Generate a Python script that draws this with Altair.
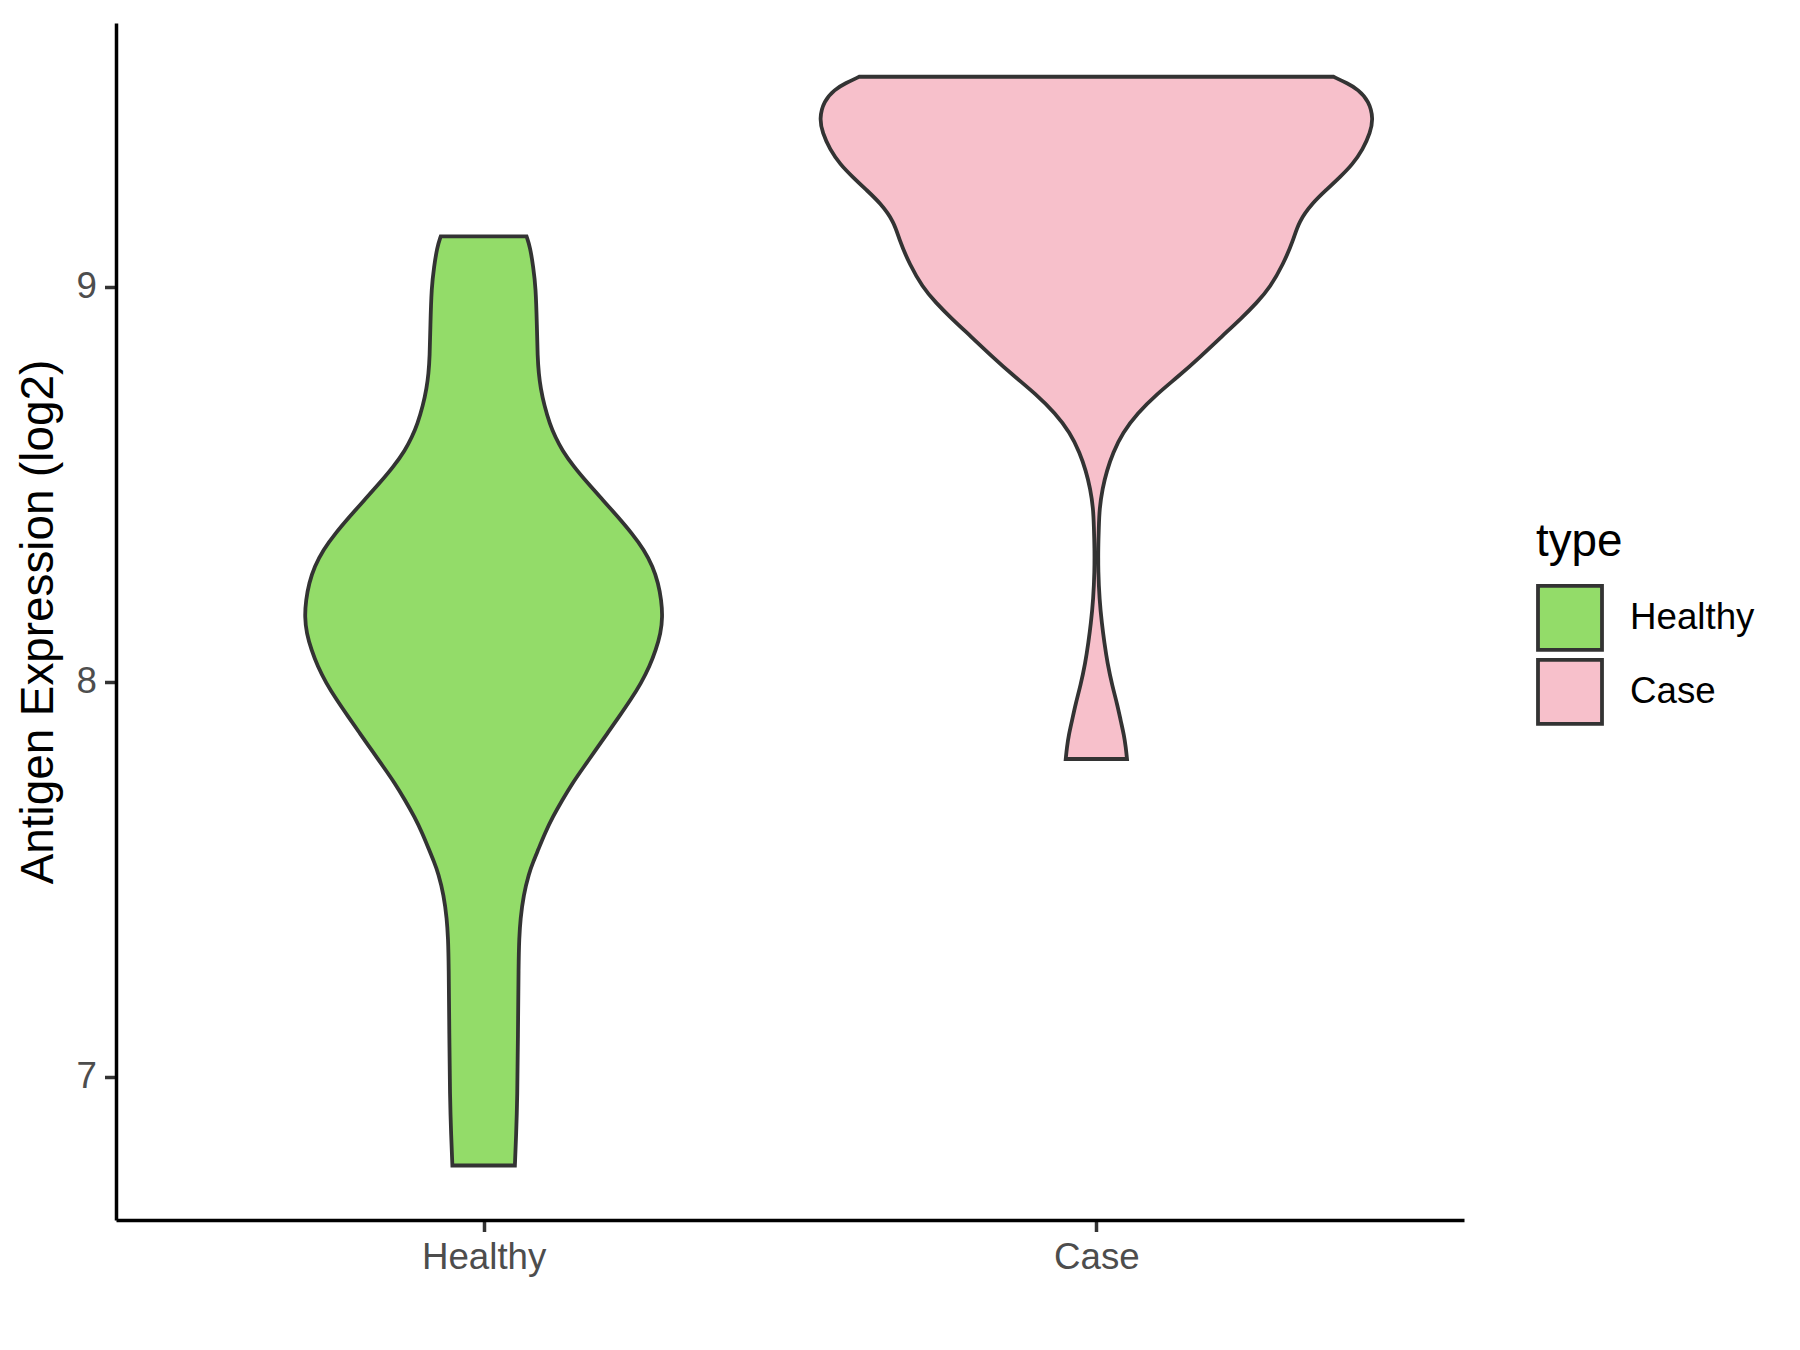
import altair as alt
import pandas as pd

categories = ["Healthy", "Case"]
category_pos = [1, 2]
fill_colors = ["#93DC69", "#F7C0CB"]

# Healthy violin outline: expression value (log2) and half-width (in category units)
healthy_value = [9.128, 9.10, 9.05, 9.0, 8.9, 8.823, 8.78, 8.744, 8.70, 8.653, 8.62, 8.587,
                 8.545, 8.503, 8.46, 8.418, 8.376, 8.334, 8.292, 8.250, 8.207, 8.165,
                 8.123, 8.081, 8.04, 7.997, 7.955, 7.912, 7.87, 7.828, 7.786, 7.744,
                 7.70, 7.659, 7.617, 7.575, 7.545, 7.516, 7.46, 7.40, 7.35, 7.29, 7.1, 6.95, 6.85, 6.776]
healthy_half = [0.070, 0.076, 0.081, 0.085, 0.087, 0.088, 0.090, 0.093, 0.099, 0.108, 0.117, 0.128,
                0.147, 0.170, 0.195, 0.219, 0.242, 0.262, 0.276, 0.285, 0.290, 0.292,
                0.289, 0.281, 0.271, 0.257, 0.240, 0.221, 0.202, 0.183, 0.164, 0.145,
                0.128, 0.113, 0.100, 0.089, 0.081, 0.074, 0.065, 0.060, 0.058, 0.057, 0.056, 0.055, 0.053, 0.051]

# Case violin outline
case_value = [9.532, 9.515, 9.50, 9.47, 9.426, 9.39, 9.348, 9.31, 9.280, 9.245, 9.213,
              9.165, 9.116, 9.058, 9.0, 8.96, 8.921, 8.875, 8.825, 8.775, 8.729, 8.68,
              8.631, 8.58, 8.534, 8.49, 8.438, 8.39, 8.34, 8.28, 8.21, 8.147, 8.10,
              8.048, 7.99, 7.944, 7.90, 7.866, 7.835, 7.805]
case_half = [0.387, 0.410, 0.427, 0.445, 0.452, 0.447, 0.435, 0.418, 0.399, 0.375, 0.353,
             0.330, 0.321, 0.305, 0.284, 0.262, 0.237, 0.205, 0.171, 0.135, 0.099, 0.067,
             0.043, 0.027, 0.017, 0.010, 0.005, 0.004, 0.003, 0.003, 0.005, 0.009, 0.013,
             0.018, 0.026, 0.034, 0.040, 0.045, 0.048, 0.050]

rows = []
for cat, pos, vals, halves in [("Healthy", category_pos[0], healthy_value, healthy_half),
                               ("Case", category_pos[1], case_value, case_half)]:
    for v, h in sorted(zip(vals, halves)):
        rows.append({"type": cat, "value": v, "left": pos - h, "right": pos + h})
df = pd.DataFrame(rows)

FONT = "Liberation Sans"

chart = alt.Chart(df).mark_area(
    orient="horizontal", interpolate="basis",
    stroke="#333333", strokeWidth=3.8, strokeJoin="miter", opacity=1
).encode(
    y=alt.Y("value:Q",
            scale=alt.Scale(domain=[6.638, 9.668], nice=False, zero=False),
            axis=alt.Axis(title="Antigen Expression (log2)", values=[7, 8, 9], format="d",
                          grid=False, titleFontSize=45.8, titleFont=FONT, titleFontWeight="normal",
                          titleColor="black", titlePadding=14,
                          labelFont=FONT, labelFontSize=36.7, labelColor="#4D4D4D",
                          labelPadding=8, tickSize=11.5, tickColor="#333333", tickWidth=3.5,
                          domainColor="black", domainWidth=3.5)),
    x=alt.X("left:Q",
            scale=alt.Scale(domain=[0.4, 2.6], nice=False, zero=False),
            axis=alt.Axis(title=None, values=category_pos,
                          labelExpr="datum.value == 1 ? 'Healthy' : 'Case'",
                          grid=False, labelFont=FONT, labelFontSize=36.7, labelColor="#4D4D4D",
                          labelPadding=8, tickSize=11.5, tickColor="#333333", tickWidth=3.5,
                          domainColor="black", domainWidth=3.5)),
    x2="right:Q",
    color=alt.Color("type:N",
                    scale=alt.Scale(domain=categories, range=fill_colors),
                    legend=alt.Legend(title="type", orient="none", legendX=1420, legendY=497,
                                      titleFont=FONT, titleFontSize=45.8, titleFontWeight="normal",
                                      titleColor="black", titlePadding=18,
                                      labelFont=FONT, labelFontSize=36.7, labelColor="black",
                                      labelOffset=26, symbolType="square", symbolSize=4096,
                                      symbolStrokeColor="#333333", symbolStrokeWidth=3.8,
                                      symbolOpacity=1, rowPadding=-6, padding=0)),
).properties(
    width=1348, height=1197,
    autosize=alt.AutoSizeParams(type="none"),
    padding={"left": 108, "top": 15, "right": 320, "bottom": 110},
    background="white",
).configure_view(stroke=None)

chart.save("out.html", embed_options={"renderer": "svg", "actions": False})
